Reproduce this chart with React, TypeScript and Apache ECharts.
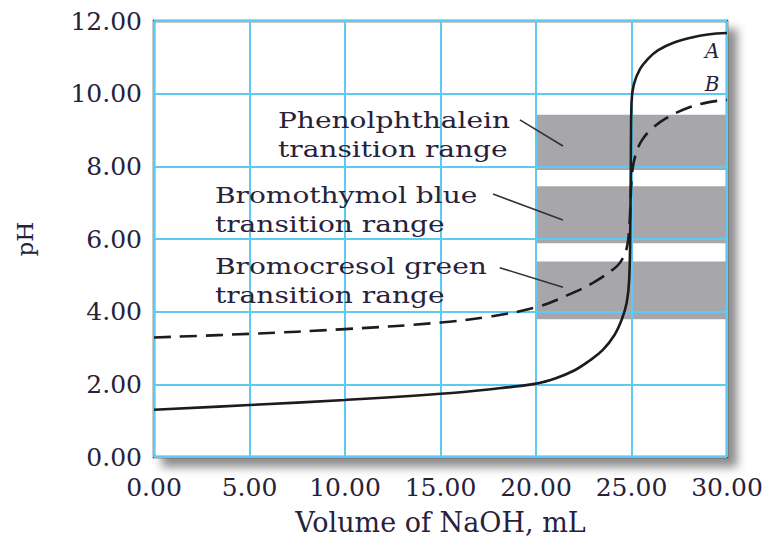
import React, { useEffect, useRef } from "react";
import * as echarts from "echarts";

// ---- data ----
const xTicks = [0, 5, 10, 15, 20, 25, 30];
const yTicks = [0, 2, 4, 6, 8, 10, 12];

// Curve A (solid)
const curveAVolume = [0, 5, 10, 15, 17.5, 20, 21, 22, 22.8, 23.5, 24.1, 24.5, 24.75, 24.88, 24.94, 24.97, 25.0, 25.12, 25.45, 25.9, 26.4, 27.2, 28.1, 29.0, 30.0];
const curveAPH = [1.3, 1.43, 1.57, 1.74, 1.86, 2.02, 2.16, 2.38, 2.65, 2.95, 3.35, 3.8, 4.25, 4.9, 6.5, 8.5, 9.75, 10.25, 10.68, 10.98, 11.2, 11.4, 11.54, 11.63, 11.67];

// Curve B (dashed)
const curveBVolume = [0, 5, 10, 15, 17.5, 20, 21.6, 23.0, 24.0, 24.4, 24.75, 24.88, 24.95, 25.02, 25.2, 25.55, 26.1, 26.8, 27.9, 29.0, 30.0];
const curveBPH = [3.29, 3.39, 3.52, 3.7, 3.86, 4.12, 4.44, 4.8, 5.15, 5.35, 5.75, 6.3, 7.0, 7.75, 8.3, 8.72, 9.05, 9.32, 9.6, 9.76, 9.83];

// Indicator transition ranges
const bandNames = ["Phenolphthalein", "Bromothymol blue", "Bromocresol green"];
const bandLow = [7.9, 5.88, 3.79];
const bandHigh = [9.42, 7.45, 5.38];
const bandVolumeStart = 20;
const bandVolumeEnd = 30;

// Annotation anchors (data coordinates)
const labelVolume = [6.49, 3.19, 3.19];
const labelPH = [8.89, 6.82, 4.87];
const leaderStart = [[19.16, 9.28], [17.75, 7.24], [18.1, 5.21]];
const leaderEnd = [[21.41, 8.56], [21.41, 6.52], [21.41, 4.67]];
const curveNames = ["A", "B"];
const curveLabelPos = [[29.6, 11.18], [29.6, 10.27]];

const FONT = '"DejaVu Serif", "Liberation Serif", serif';
const TEXT = "#27223a";

export default function App() {
  const ref = useRef<HTMLDivElement>(null);

  useEffect(() => {
    const el = ref.current;
    if (!el) return;
    const chart = echarts.init(el, null, { renderer: "svg" });

    chart.setOption({
      animation: false,
      backgroundColor: "#ffffff",
      grid: {
        left: 154,
        right: 42,
        top: 21,
        bottom: 77,
        show: true,
        backgroundColor: "#ffffff",
        borderColor: "#333333",
        borderWidth: 2.5,
        shadowBlur: 10,
        shadowColor: "rgba(0,0,0,0.45)",
        shadowOffsetX: 9,
        shadowOffsetY: 9,
      },
      xAxis: {
        type: "value",
        min: xTicks[0],
        max: xTicks[xTicks.length - 1],
        interval: 5,
        z: 3,
        axisLine: { show: false },
        axisTick: { show: false },
        splitLine: { show: true, lineStyle: { color: "#5ccaf2", width: 2 } },
        axisLabel: {
          margin: 18,
          fontFamily: FONT,
          fontSize: 25,
          color: TEXT,
          formatter: (v: number) => v.toFixed(2),
        },
        name: "Volume of NaOH, mL",
        nameLocation: "middle",
        nameGap: 52,
        nameTextStyle: { fontFamily: FONT, fontSize: 27, color: TEXT },
      },
      yAxis: {
        type: "value",
        min: yTicks[0],
        max: yTicks[yTicks.length - 1],
        interval: 2,
        z: 3,
        axisLine: { show: false },
        axisTick: { show: false },
        splitLine: { show: true, lineStyle: { color: "#5ccaf2", width: 2 } },
        axisLabel: {
          margin: 12,
          fontFamily: FONT,
          fontSize: 25,
          color: TEXT,
          formatter: (v: number) => v.toFixed(2),
        },
        name: "pH",
        nameLocation: "middle",
        nameGap: 118,
        nameRotate: 90,
        nameTextStyle: { fontFamily: FONT, fontSize: 23, color: TEXT },
      },
      series: [
        {
          type: "line",
          name: "bands",
          data: [],
          z: 2,
          silent: true,
          markArea: {
            silent: true,
            itemStyle: { color: "#a7a7ab" },
            label: { show: false },
            data: bandNames.map((n, i) => [
              { name: n, coord: [bandVolumeStart, bandLow[i]] },
              { coord: [bandVolumeEnd, bandHigh[i]] },
            ]),
          },
        },
        {
          type: "line",
          name: "leaders",
          data: [],
          z: 4,
          silent: true,
          markLine: {
            silent: true,
            symbol: ["none", "none"],
            label: { show: false },
            lineStyle: { color: "#333333", width: 1.6, type: "solid" },
            data: leaderStart.map((s, i) => [
              { coord: s },
              { coord: leaderEnd[i] },
            ]),
          },
        },
        {
          type: "line",
          name: curveNames[0],
          data: curveAVolume.map((v, i) => [v, curveAPH[i]]),
          smooth: 0.4,
          symbol: "none",
          z: 5,
          lineStyle: { color: "#1c1c1c", width: 2.6 },
        },
        {
          type: "line",
          name: curveNames[1],
          data: curveBVolume.map((v, i) => [v, curveBPH[i]]),
          smooth: 0.4,
          symbol: "none",
          z: 5,
          lineStyle: { color: "#1c1c1c", width: 2.6, type: [17, 9] },
        },
      ],
    });

    const px = (x: number, y: number) =>
      chart.convertToPixel({ gridIndex: 0 }, [x, y]) as number[];

    const graphics: any[] = [];
    bandNames.forEach((n, i) => {
      const [x, y] = px(labelVolume[i], labelPH[i]);
      graphics.push({
        type: "text",
        x,
        y,
        scaleX: 1.22,
        z: 10,
        style: {
          text: n + "\ntransition range",
          font: `23px ${FONT}`,
          fill: TEXT,
          align: "left",
          verticalAlign: "middle",
          lineHeight: 29,
        },
      });
    });
    curveNames.forEach((n, i) => {
      const [x, y] = px(curveLabelPos[i][0], curveLabelPos[i][1]);
      graphics.push({
        type: "text",
        x,
        y,
        z: 10,
        style: {
          text: n,
          font: `italic 20px ${FONT}`,
          fill: TEXT,
          align: "right",
          verticalAlign: "middle",
        },
      });
    });
    chart.setOption({ graphic: graphics });

    return () => chart.dispose();
  }, []);

  return (
    <div
      ref={ref}
      style={{ position: "fixed", left: 0, top: 0, width: 769, height: 541 }}
    />
  );
}
